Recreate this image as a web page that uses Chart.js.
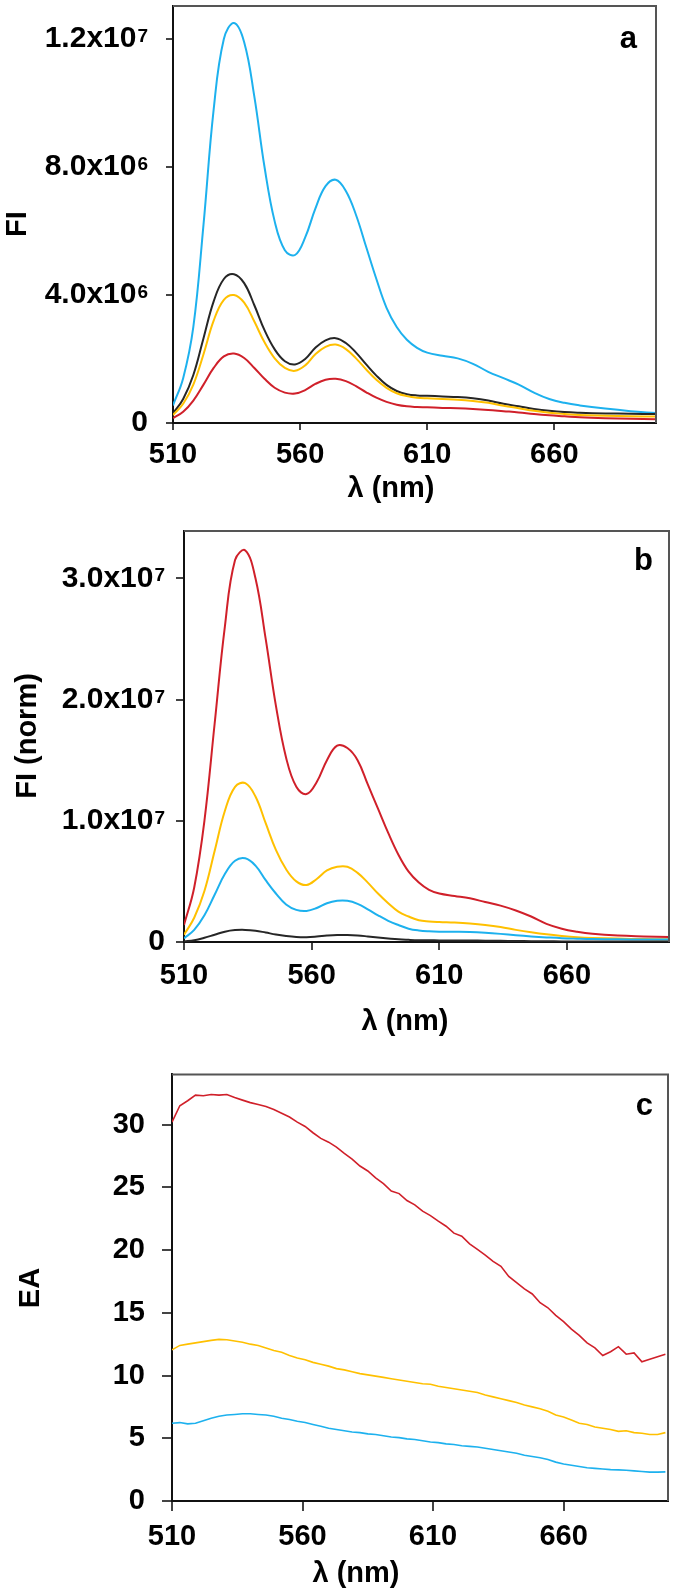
<!DOCTYPE html>
<html lang="en">
<head>
    <meta charset="UTF-8">
    <title>Fluorescence spectra a, b, c</title>
    <style>
        body {
            margin: 0;
            background: #fff;
            width: 675px;
            height: 1593px;
            position: relative;
            overflow: hidden;
        }
        canvas {
            position: absolute;
            left: 0;
        }
    </style>
    <script src="https://cdn.jsdelivr.net/npm/chart.js"></script>
</head>
<body>
    <canvas id="chartA" width="675" height="520" style="top:0px"></canvas>
    <canvas id="chartB" width="675" height="520" style="top:520px"></canvas>
    <canvas id="chartC" width="675" height="553" style="top:1040px"></canvas>

    <script>
        // wavelengths (nm) for panels a and b
        const lambdaAB = [510, 514, 518, 522, 526, 530, 534, 538, 542, 546,
                          550, 554, 558, 562, 566, 570, 574, 578, 582, 586,
                          590, 594, 598, 602, 606, 610,
                          616, 622, 628, 634, 640, 646, 652, 658, 664, 670,
                          680, 690, 700];

        // panel a, FI in units of 10^6
        const aBlue = [0.55, 1.4, 3.0, 6.2, 9.8, 12.0, 12.5, 11.9, 10.2, 8.0,
                       6.3, 5.4, 5.25, 5.8, 6.7, 7.4, 7.6, 7.25, 6.5, 5.5,
                       4.5, 3.6, 3.0, 2.6, 2.35, 2.2,
                       2.1, 2.02, 1.85, 1.6, 1.4, 1.2, 0.95, 0.75, 0.63, 0.55,
                       0.45, 0.37, 0.31];
        const aBlack = [0.3, 0.75, 1.5, 2.65, 3.8, 4.5, 4.65, 4.37, 3.68, 2.9,
                        2.3, 1.93, 1.83, 2.0, 2.35, 2.58, 2.65, 2.5, 2.2, 1.83,
                        1.48, 1.19, 1.0, 0.9, 0.86, 0.85,
                        0.83, 0.81, 0.77, 0.7, 0.6, 0.52, 0.44, 0.38, 0.34, 0.32,
                        0.3, 0.29, 0.28];
        const aYellow = [0.25, 0.6, 1.2, 2.15, 3.2, 3.85, 4.0, 3.76, 3.17, 2.52,
                         2.02, 1.72, 1.63, 1.8, 2.15, 2.38, 2.45, 2.31, 2.02, 1.67,
                         1.35, 1.1, 0.93, 0.84, 0.79, 0.77,
                         0.75, 0.73, 0.69, 0.63, 0.54, 0.46, 0.38, 0.32, 0.28, 0.25,
                         0.23, 0.21, 0.2];
        const aRed = [0.15, 0.35, 0.7, 1.2, 1.72, 2.08, 2.17, 2.03, 1.72, 1.38,
                      1.1, 0.95, 0.92, 1.03, 1.22, 1.35, 1.38, 1.31, 1.15, 0.96,
                      0.79, 0.66, 0.57, 0.52, 0.5, 0.49,
                      0.47, 0.46, 0.44, 0.41, 0.37, 0.33, 0.28, 0.24, 0.21, 0.18,
                      0.15, 0.13, 0.12];

        // panel b, FI (norm) in units of 10^7
        const bRed = [0.14, 0.45, 1.0, 1.8, 2.6, 3.15, 3.23, 3.0, 2.5, 1.95,
                      1.52, 1.28, 1.22, 1.32, 1.5, 1.62, 1.6, 1.5, 1.3, 1.1,
                      0.9, 0.72, 0.58, 0.49, 0.43, 0.4,
                      0.38, 0.36, 0.33, 0.3, 0.26, 0.21, 0.15, 0.11, 0.085, 0.068,
                      0.053, 0.046, 0.041];
        const bYellow = [0.06, 0.2, 0.42, 0.75, 1.08, 1.28, 1.31, 1.2, 0.98, 0.76,
                         0.6, 0.5, 0.47, 0.52, 0.59, 0.62, 0.62, 0.57, 0.49, 0.4,
                         0.32, 0.25, 0.21, 0.18, 0.17, 0.165,
                         0.16, 0.152, 0.14, 0.123, 0.1, 0.08, 0.063, 0.05, 0.04, 0.034,
                         0.028, 0.024, 0.022];
        const bBlue = [0.03, 0.1, 0.22, 0.39, 0.56, 0.67, 0.69, 0.63, 0.51, 0.4,
                       0.31, 0.265, 0.256, 0.28, 0.32, 0.34, 0.34, 0.315, 0.27, 0.22,
                       0.175, 0.14, 0.11, 0.095, 0.088, 0.085,
                       0.084, 0.082, 0.076, 0.067, 0.056, 0.046, 0.038, 0.031, 0.027, 0.024,
                       0.022, 0.021, 0.02];
        const bBlack = [0.005, 0.015, 0.035, 0.06, 0.085, 0.098, 0.1, 0.093, 0.078, 0.062,
                        0.05, 0.042, 0.04, 0.045, 0.053, 0.058, 0.058, 0.054, 0.046, 0.037,
                        0.029, 0.022, 0.018, 0.015, 0.014, 0.013,
                        0.012, 0.012, 0.011, 0.01, 0.008, 0.007, 0.006, 0.005, 0.005, 0.004,
                        0.004, 0.004, 0.004];

        // panel c, EA
        const lambdaC = [510, 513, 516, 519, 522, 525, 528, 531, 534, 537,
                         540, 543, 546, 549, 552, 555, 558, 561, 564, 567,
                         570, 573, 576, 579, 582, 585, 588, 591, 594, 597,
                         600, 603, 606, 609, 612, 615, 618, 621, 624, 627,
                         630, 633, 636, 639, 642, 645, 648, 651, 654, 657,
                         660, 663, 666, 669, 672, 675, 678, 681, 684, 687,
                         690, 693, 696, 699];
        const cRed = [30.2, 31.5, 31.9, 32.35, 32.3, 32.4, 32.35, 32.4, 32.15, 31.95,
                      31.75, 31.6, 31.45, 31.2, 30.9, 30.6, 30.2, 29.85, 29.35, 28.9,
                      28.6, 28.2, 27.7, 27.25, 26.7, 26.3, 25.75, 25.3, 24.7, 24.5,
                      23.95, 23.6, 23.1, 22.75, 22.3, 21.9, 21.35, 21.1, 20.5, 20.05,
                      19.6, 19.1, 18.7, 17.9, 17.4, 16.9, 16.5, 15.8, 15.4, 14.8,
                      14.3, 13.7, 13.2, 12.6, 12.2, 11.6, 11.9, 12.3, 11.7, 11.8,
                      11.1, 11.3, 11.5, 11.7];
        const cYellow = [12.05, 12.4, 12.5, 12.6, 12.7, 12.8, 12.88, 12.85, 12.75, 12.65,
                         12.5, 12.4, 12.2, 12.0, 11.85, 11.6, 11.4, 11.25, 11.05, 10.9,
                         10.75, 10.55, 10.45, 10.3, 10.15, 10.05, 9.95, 9.85, 9.75, 9.65,
                         9.55, 9.45, 9.35, 9.3, 9.15, 9.05, 8.95, 8.85, 8.75, 8.65,
                         8.45, 8.3, 8.15, 8.0, 7.85, 7.65, 7.5, 7.35, 7.15, 6.85,
                         6.7, 6.45, 6.2, 6.1, 5.9, 5.8, 5.7, 5.55, 5.6, 5.45,
                         5.4, 5.3, 5.3, 5.45];
        const cBlue = [6.2, 6.25, 6.15, 6.2, 6.4, 6.6, 6.75, 6.85, 6.9, 6.95,
                       6.95, 6.9, 6.85, 6.75, 6.6, 6.5, 6.35, 6.25, 6.1, 5.95,
                       5.8, 5.7, 5.6, 5.5, 5.45, 5.35, 5.3, 5.2, 5.1, 5.05,
                       4.95, 4.9, 4.8, 4.7, 4.65, 4.55, 4.5, 4.4, 4.35, 4.3,
                       4.2, 4.1, 4.0, 3.9, 3.8, 3.65, 3.55, 3.45, 3.3, 3.1,
                       2.95, 2.85, 2.75, 2.65, 2.6, 2.55, 2.5, 2.48, 2.45, 2.4,
                       2.35, 2.3, 2.3, 2.32];

        // tick values
        const xTicks = [510, 560, 610, 660];
        const yTicksA = [0, 4e6, 8e6, 1.2e7];
        const yTicksB = [0, 1e7, 2e7, 3e7];
        const yTicksC = [0, 5, 10, 15, 20, 25, 30];

        const FONT = '"Liberation Sans", Arial, sans-serif';
        const BLUE = '#1db1ee';
        const BLACK = '#262626';
        const YELLOW = '#ffc000';
        const RED = '#d0202a';

        function line(xs, ys, mult, color, width, smooth) {
            return {
                data: xs.map((x, i) => ({ x: x, y: ys[i] * mult })),
                borderColor: color,
                borderWidth: width,
                pointRadius: 0,
                fill: false,
                tension: smooth ? 0.4 : 0
            };
        }

        // "1.2x10" + "7"
        function sci(v) {
            if (v === 0) return ['0', ''];
            const e = Math.floor(Math.log10(v) + 1e-9);
            return [(v / Math.pow(10, e)).toFixed(1) + 'x10', String(e)];
        }

        // box on top / right, panel letter, axis titles, superscript tick labels
        const panelText = {
            id: 'panelText',
            afterDraw(chart, args, o) {
                const ctx = chart.ctx;
                const a = chart.chartArea;
                ctx.save();
                ctx.strokeStyle = '#555';
                ctx.lineWidth = 2;
                ctx.beginPath();
                ctx.moveTo(a.left, a.top);
                ctx.lineTo(a.right, a.top);
                ctx.lineTo(a.right, a.bottom);
                ctx.stroke();

                ctx.fillStyle = '#000';
                if (o.sciRight) {
                    const ys = chart.scales.y;
                    ys.ticks.forEach(t => {
                        const py = ys.getPixelForValue(t.value);
                        const parts = sci(t.value);
                        ctx.font = 'bold 19px ' + FONT;
                        const ew = parts[1] ? ctx.measureText(parts[1]).width : 0;
                        ctx.textAlign = 'left';
                        ctx.textBaseline = 'alphabetic';
                        if (parts[1]) ctx.fillText(parts[1], o.sciRight - ew, py + 3);
                        ctx.font = 'bold 30px ' + FONT;
                        ctx.textAlign = 'right';
                        ctx.textBaseline = 'middle';
                        ctx.fillText(parts[0], o.sciRight - ew - (parts[1] ? 1 : 0), py);
                    });
                }

                ctx.font = 'bold 29px ' + FONT;
                ctx.textAlign = 'center';
                ctx.textBaseline = 'middle';
                ctx.fillText(o.xTitle, o.xTitleX, o.xTitleY);
                ctx.save();
                ctx.translate(o.yTitleX, o.yTitleY);
                ctx.rotate(-Math.PI / 2);
                ctx.fillText(o.yTitle, 0, 0);
                ctx.restore();

                ctx.font = 'bold 31px ' + FONT;
                ctx.textAlign = 'right';
                ctx.textBaseline = 'alphabetic';
                ctx.fillText(o.letter, a.right - o.letterGap, a.top + o.letterDrop);
                ctx.restore();
            }
        };

        function makeChart(id, p) {
            const tickFont = { family: FONT, size: 29, weight: 'bold' };
            return new Chart(document.getElementById(id).getContext('2d'), {
                type: 'line',
                data: { datasets: p.datasets },
                plugins: [panelText],
                options: {
                    responsive: false,
                    animation: false,
                    devicePixelRatio: 1,
                    events: [],
                    layout: { padding: { left: 0, top: p.top, right: 675 - p.right, bottom: 0 } },
                    plugins: {
                        legend: { display: false },
                        tooltip: { enabled: false },
                        panelText: p.text
                    },
                    scales: {
                        x: {
                            type: 'linear',
                            min: 510,
                            max: 700,
                            afterBuildTicks: s => { s.ticks = xTicks.map(v => ({ value: v })); },
                            afterFit: s => { s.height = p.canvasH - p.bottom; },
                            border: { display: true, color: '#111', width: 2 },
                            grid: { display: true, drawOnChartArea: false, drawTicks: true, tickLength: p.tick, color: '#444', lineWidth: 2 },
                            ticks: { color: '#000', font: tickFont, padding: p.xPad, maxRotation: 0, autoSkip: false }
                        },
                        y: {
                            type: 'linear',
                            min: 0,
                            max: p.ymax,
                            afterBuildTicks: s => { s.ticks = p.yTicks.map(v => ({ value: v })); },
                            afterFit: s => { s.width = p.left; },
                            border: { display: true, color: '#111', width: 2 },
                            grid: { display: true, drawOnChartArea: false, drawTicks: true, tickLength: p.tick, color: '#444', lineWidth: 2 },
                            ticks: { display: !p.text.sciRight, color: '#000', font: tickFont, padding: p.yPad, autoSkip: false }
                        }
                    }
                }
            });
        }

        makeChart('chartA', {
            canvasH: 520, top: 6, left: 173, right: 656, bottom: 423,
            ymax: 1.303e7, yTicks: yTicksA, tick: 7, xPad: 8, yPad: 19,
            datasets: [
                line(lambdaAB, aRed, 1e6, RED, 2, true),
                line(lambdaAB, aYellow, 1e6, YELLOW, 2, true),
                line(lambdaAB, aBlack, 1e6, BLACK, 2, true),
                line(lambdaAB, aBlue, 1e6, BLUE, 2, true)
            ],
            text: { sciRight: 148, xTitle: 'λ (nm)', xTitleX: 391, xTitleY: 489,
                    yTitle: 'FI', yTitleX: 18, yTitleY: 224, letter: 'a', letterGap: 19, letterDrop: 42 }
        });

        makeChart('chartB', {
            canvasH: 520, top: 11, left: 184, right: 669, bottom: 422,
            ymax: 3.39e7, yTicks: yTicksB, tick: 8, xPad: 9, yPad: 10,
            datasets: [
                line(lambdaAB, bBlack, 1e7, BLACK, 2, true),
                line(lambdaAB, bBlue, 1e7, BLUE, 2, true),
                line(lambdaAB, bYellow, 1e7, YELLOW, 2, true),
                line(lambdaAB, bRed, 1e7, RED, 2, true)
            ],
            text: { sciRight: 165, xTitle: 'λ (nm)', xTitleX: 405, xTitleY: 502,
                    yTitle: 'FI (norm)', yTitleX: 28, yTitleY: 216, letter: 'b', letterGap: 16, letterDrop: 39 }
        });

        makeChart('chartC', {
            canvasH: 553, top: 31, left: 172, right: 668, bottom: 461,
            ymax: 34, yTicks: yTicksC, tick: 10, xPad: 9, yPad: 17,
            datasets: [
                line(lambdaC, cBlue, 1, BLUE, 1.6, false),
                line(lambdaC, cYellow, 1, YELLOW, 1.6, false),
                line(lambdaC, cRed, 1, RED, 1.6, false)
            ],
            text: { sciRight: 0, xTitle: 'λ (nm)', xTitleX: 356, xTitleY: 534,
                    yTitle: 'EA', yTitleX: 31, yTitleY: 248, letter: 'c', letterGap: 15, letterDrop: 41 }
        });
    </script>
</body>
</html>
